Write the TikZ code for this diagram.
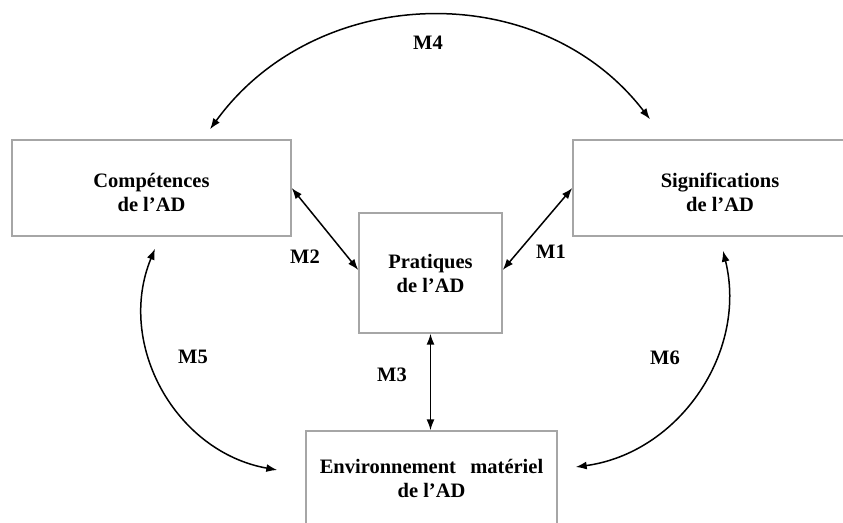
\documentclass[tikz,border=0pt]{standalone}
\usepackage{fontspec}
\setmainfont{Liberation Serif}
\usetikzlibrary{arrows.meta}

\tikzset{
    box/.style={draw=gray!70, line width=1.4pt, align=center, inner sep=0pt,
        font=\fontsize{20.5}{24}\selectfont\bfseries},
    link/.style={line width=1.5pt, <->, >={Latex[length=11pt,width=8pt]}},
    tag/.style={inner sep=0pt, font=\fontsize{20.5}{24}\selectfont\bfseries}
}

\begin{document}
\begin{tikzpicture}[x=1pt,y=-1pt]
    \useasboundingbox (0,0) rectangle (843,522);
    \clip (0,0) rectangle (843,522);
    \node[box, minimum width=279pt, minimum height=96pt] (comp) at (151.5,188) {\rule{0pt}{24pt}Compétences\\de l’AD};
    \node[box, minimum width=294pt, minimum height=96pt] (signif) at (720,188) {\rule{0pt}{24pt}Significations\\de l’AD};
    \node[box, minimum width=143pt, minimum height=120pt] (prat) at (430.5,273) {Pratiques\\de l’AD};
    \node[box, minimum width=251pt, minimum height=94pt] (env) at (431.5,478) {Environnement\hspace{0.7em}matériel\\de l’AD};

    \draw[link] (signif.west) -- ([yshift=3pt]prat.east);
    \draw[link] (comp.east) -- ([yshift=3pt]prat.west);
    \draw[link] (prat.south) -- (prat.south |- env.north);
    \draw[link] ([xshift=58.5pt,yshift=10pt]comp.north) .. controls (316,-17) and (540,-24) .. ([xshift=-70pt,yshift=20pt]signif.north);
    \draw[link] ([xshift=3.5pt,yshift=-12pt]comp.south) .. controls (115.5,344) and (175.6,452) .. ([xshift=-28pt,yshift=8pt]env.west);
    \draw[link] ([xshift=3pt,yshift=-14pt]signif.south) .. controls (748,352) and (679,453) .. ([xshift=18pt,yshift=11pt]env.east);

    \node[tag] (m1) at (551,252) {M1};
    \node[tag] (m2) at (305,257) {M2};
    \node[tag] (m3) at (392,375) {M3};
    \node[tag] (m4) at (428,43) {M4};
    \node[tag] (m5) at (193,357) {M5};
    \node[tag] (m6) at (665,358) {M6};
\end{tikzpicture}
\end{document}
